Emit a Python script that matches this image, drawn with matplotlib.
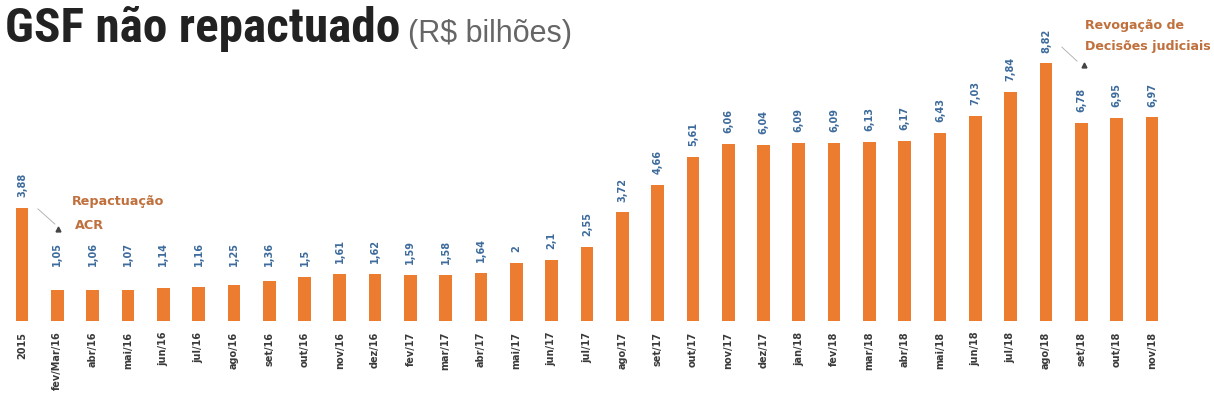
import matplotlib
matplotlib.use("Agg")
import matplotlib.pyplot as plt
from matplotlib import font_manager

categories = ["2015", "fev/Mar/16", "abr/16", "mai/16", "jun/16", "jul/16", "ago/16",
              "set/16", "out/16", "nov/16", "dez/16", "fev/17", "mar/17", "abr/17",
              "mai/17", "jun/17", "jul/17", "ago/17", "set/17", "out/17", "nov/17",
              "dez/17", "jan/18", "fev/18", "mar/18", "abr/18", "mai/18", "jun/18",
              "jul/18", "ago/18", "set/18", "out/18", "nov/18"]
values = [3.88, 1.05, 1.06, 1.07, 1.14, 1.16, 1.25, 1.36, 1.5, 1.61, 1.62, 1.59, 1.58,
          1.64, 2, 2.1, 2.55, 3.72, 4.66, 5.61, 6.06, 6.04, 6.09, 6.09, 6.13, 6.17,
          6.43, 7.03, 7.84, 8.82, 6.78, 6.95, 6.97]
value_labels = ["3,88", "1,05", "1,06", "1,07", "1,14", "1,16", "1,25", "1,36", "1,5",
                "1,61", "1,62", "1,59", "1,58", "1,64", "2", "2,1", "2,55", "3,72",
                "4,66", "5,61", "6,06", "6,04", "6,09", "6,09", "6,13", "6,17", "6,43",
                "7,03", "7,84", "8,82", "6,78", "6,95", "6,97"]

names = {f.name for f in font_manager.fontManager.ttflist}
title_font = "Liberation Sans"
for cand in ["Roboto Condensed", "Liberation Sans Narrow", "Open Sans Condensed",
             "Noto Sans Condensed", "DejaVu Sans Condensed"]:
    if cand in names:
        title_font = cand
        break

BAR = "#EC7C30"
VAL = "#3d6b9c"
ANN = "#c0703c"

fig = plt.figure(figsize=(12.14, 4.14), dpi=100)
ax = fig.add_axes([0, 92/414, 1, 322/414])
x = list(range(len(values)))
ax.bar(x, values, width=0.36, color=BAR)
ax.set_xlim(-22/35.31, (1214-22)/35.31)
ax.set_ylim(0, 322/29.2)
for s in ax.spines.values():
    s.set_visible(False)
ax.set_yticks([])
ax.set_xticks(x)
ax.set_xticklabels(categories, rotation=90, fontsize=7, fontweight="bold",
                   color="#3a3a3a", va="top")
ax.tick_params(axis="x", length=0, pad=7)

for xi, v, lab in zip(x, values, value_labels):
    ax.annotate(lab, (xi, max(v, 1.5)), xytext=(0, 8.5), textcoords="offset points",
                rotation=90, ha="center", va="bottom", fontsize=7,
                fontweight="bold", color=VAL)

# annotations
ax.plot([1.02], [3.15], marker="^", ms=3.5, color="#444", ls="none")
ax.plot([0.45, 0.93], [3.84, 3.32], color="#aaaaaa", lw=0.6)
ax.text(1.42, 4.12, "Repactuação", fontsize=9.2, fontweight="bold",
        color=ANN, va="center", ha="left")
ax.text(1.5, 3.32, "ACR", fontsize=9.2, fontweight="bold",
        color=ANN, va="center", ha="left")

ax.plot([30.08], [8.77], marker="^", ms=3.5, color="#444", ls="none")
ax.plot([29.45, 29.88], [9.38, 8.9], color="#aaaaaa", lw=0.6)
ax.text(30.1, 10.17, "Revogação de", fontsize=9.1, fontweight="bold",
        color=ANN, va="center", ha="left")
ax.text(30.1, 9.42, "Decisões judiciais", fontsize=9.1, fontweight="bold",
        color=ANN, va="center", ha="left")

t = fig.text(0.004, (414 - 42) / 414, "GSF não repactuado", fontsize=35.5,
             fontweight="bold", family=title_font, color="#222222",
             va="baseline", ha="left")
fig.canvas.draw()
bb = t.get_window_extent()
fig.text((bb.x1 + 8) / 1214, (414 - 42) / 414, "(R$ bilhões)", fontsize=22,
         family="Liberation Sans", color="#666666", va="baseline", ha="left")

fig.savefig("out.png", dpi=100)
